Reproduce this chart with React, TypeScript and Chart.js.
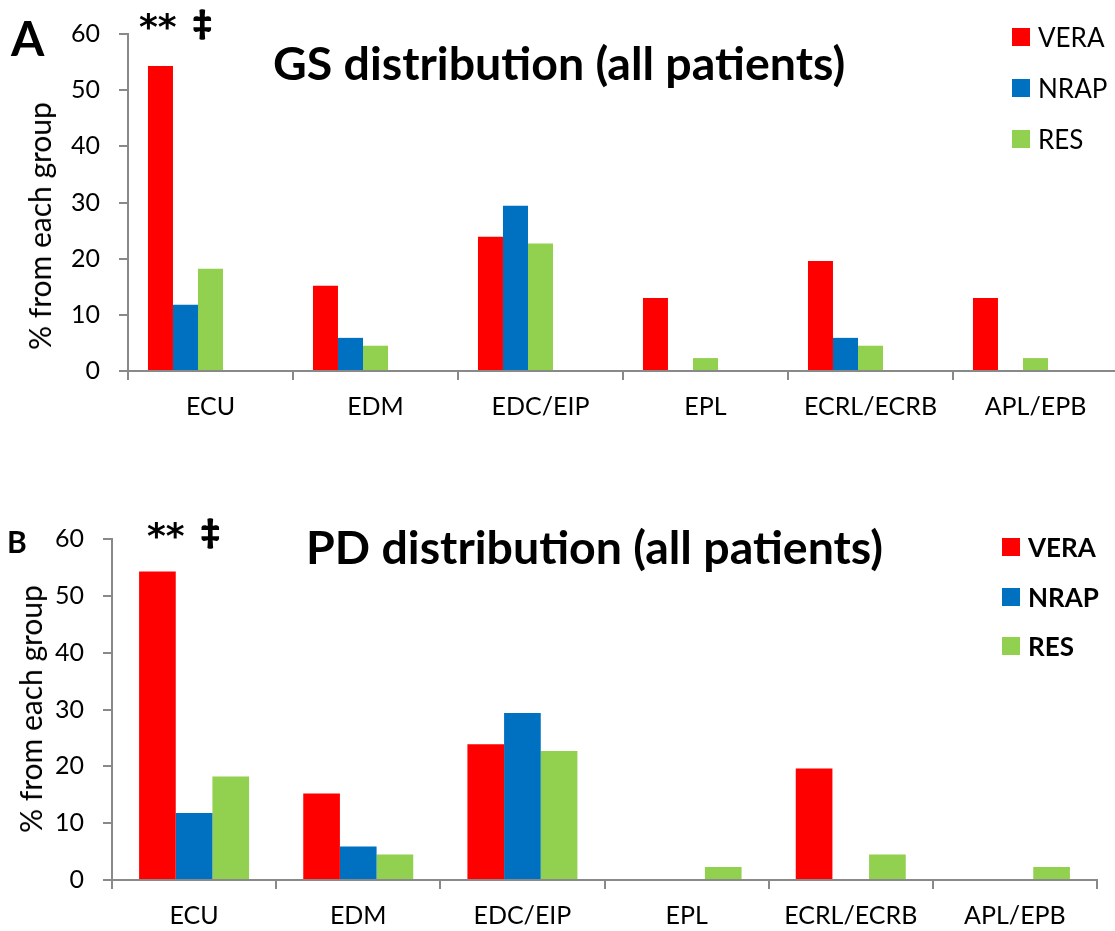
import React, { useEffect, useRef } from "react";
import { Chart, registerables } from "chart.js";

Chart.register(...registerables);

const categories = ["ECU", "EDM", "EDC/EIP", "EPL", "ECRL/ECRB", "APL/EPB"];
const seriesNames = ["VERA", "NRAP", "RES"];
const seriesColors = ["#FF0000", "#0070C0", "#92D050"];

// Panel A: GS distribution (all patients)
const gsVERA = [54.3, 15.2, 23.9, 13.0, 19.6, 13.0];
const gsNRAP = [11.8, 5.9, 29.4, 0, 5.9, 0];
const gsRES = [18.2, 4.5, 22.7, 2.3, 4.5, 2.3];

// Panel B: PD distribution (all patients)
const pdVERA = [54.3, 15.2, 23.9, 0, 19.6, 0];
const pdNRAP = [11.8, 5.9, 29.4, 0, 0, 0];
const pdRES = [18.2, 4.5, 22.7, 2.3, 4.5, 2.3];

const yMin = 0;
const yMax = 60;
const yStep = 10;

const titleA = "GS distribution (all patients)";
const titleB = "PD distribution (all patients)";
const yTitle = "% from each group";
const stars = "**";
const dagger = "‡";

const FONT = "Lato";
const AXIS = "#898989";

function makeOptions(yWidth: number, xHeight: number, padding: any, catPct: number) {
  return {
    responsive: false,
    animation: false as const,
    layout: { padding },
    plugins: { legend: { display: false }, tooltip: { enabled: false }, title: { display: false } },
    datasets: { bar: { categoryPercentage: catPct, barPercentage: 1 } },
    scales: {
      x: {
        type: "category" as const,
        grid: { display: true, drawOnChartArea: false, drawTicks: true, tickLength: 9, color: AXIS, lineWidth: 2, offset: true },
        border: { display: true, color: AXIS, width: 2 },
        ticks: { color: "#000", font: { family: FONT, size: 25 }, padding: 12, maxRotation: 0, autoSkip: false },
        afterFit: (s: any) => { s.height = xHeight; },
      },
      y: {
        min: yMin,
        max: yMax,
        grid: { display: true, drawOnChartArea: false, drawTicks: true, tickLength: 9, color: AXIS, lineWidth: 2 },
        border: { display: true, color: AXIS, width: 2 },
        ticks: { stepSize: yStep, color: "#000", font: { family: FONT, size: 25 }, padding: 19 },
        afterFit: (s: any) => { s.width = yWidth; },
      },
    },
  };
}

function Legend({ top, left, bold, gap }: { top: number; left: number; bold: boolean; gap: number }) {
  return (
    <>
      {seriesNames.map((n, i) => (
        <div key={n} style={{ position: "absolute", left, top: top + i * gap, height: 26, display: "flex", alignItems: "center", fontSize: 26, lineHeight: 1, fontWeight: bold ? 700 : 400, whiteSpace: "nowrap" }}>
          <div style={{ width: 18, height: 18, background: seriesColors[i], marginRight: 8 }} />
          <span>{n}</span>
        </div>
      ))}
    </>
  );
}

export default function App() {
  const topRef = useRef<HTMLCanvasElement>(null);
  const botRef = useRef<HTMLCanvasElement>(null);

  useEffect(() => {
    const top = new Chart(topRef.current!, {
      type: "bar",
      data: {
        labels: categories,
        datasets: [
          { label: seriesNames[0], data: gsVERA, backgroundColor: seriesColors[0], borderWidth: 0 },
          { label: seriesNames[1], data: gsNRAP, backgroundColor: seriesColors[1], borderWidth: 0 },
          { label: seriesNames[2], data: gsRES, backgroundColor: seriesColors[2], borderWidth: 0 },
          { label: "", data: [], backgroundColor: "transparent", borderWidth: 0 },
          { label: "", data: [], backgroundColor: "transparent", borderWidth: 0 },
        ],
      },
      options: makeOptions(128, 69, { top: 31, right: 7, bottom: 0, left: 0 }, 0.758) as any,
    });
    const bot = new Chart(botRef.current!, {
      type: "bar",
      data: {
        labels: categories,
        datasets: [
          { label: seriesNames[0], data: pdVERA, backgroundColor: seriesColors[0], borderWidth: 0 },
          { label: seriesNames[1], data: pdNRAP, backgroundColor: seriesColors[1], borderWidth: 0 },
          { label: seriesNames[2], data: pdRES, backgroundColor: seriesColors[2], borderWidth: 0 },
        ],
      },
      options: makeOptions(112, 51, { top: 99, right: 18, bottom: 0, left: 0 }, 0.67) as any,
    });
    return () => { top.destroy(); bot.destroy(); };
  }, []);

  const abs = (o: any) => ({ position: "absolute" as const, lineHeight: 1, whiteSpace: "nowrap" as const, ...o });
  const starStyle = { fontFamily: "DejaVu Sans", fontSize: 36, fontWeight: 700 };
  const daggerStyle = { fontFamily: FONT, fontSize: 32, fontWeight: 700, WebkitTextStroke: "1.6px #000" };

  return (
    <div style={{ position: "absolute", left: 0, top: 0, width: 1115, height: 931, overflow: "hidden", background: "#fff", fontFamily: FONT, color: "#000" }}>
      <canvas ref={topRef} width={1125} height={440} style={{ position: "absolute", left: 0, top: 0 }} />
      <canvas ref={botRef} width={1115} height={491} style={{ position: "absolute", left: 0, top: 440 }} />

      <div style={abs({ left: 11, top: 14, fontSize: 48, fontWeight: 700 })}>A</div>
      <div style={abs({ left: 7, top: 526, fontSize: 30, fontWeight: 700 })}>B</div>

      <div style={abs({ left: 139, top: 9, ...starStyle })}>{stars}</div>
      <div style={abs({ left: 193, top: 6, ...daggerStyle })}>{dagger}</div>
      <div style={abs({ left: 147, top: 518, ...starStyle })}>{stars}</div>
      <div style={abs({ left: 201, top: 515, ...daggerStyle })}>{dagger}</div>

      <div style={abs({ left: 273, top: 39, fontSize: 46.5, fontWeight: 700 })}>{titleA}</div>
      <div style={abs({ left: 306, top: 523, fontSize: 46.5, fontWeight: 700 })}>{titleB}</div>

      <div style={abs({ left: 39, top: 226, fontSize: 30, transform: "translate(-50%,-50%) rotate(-90deg)" })}>{yTitle}</div>
      <div style={abs({ left: 30, top: 709, fontSize: 30, transform: "translate(-50%,-50%) rotate(-90deg)" })}>{yTitle}</div>

      <Legend top={24} left={1012} bold={false} gap={51} />
      <Legend top={534} left={1002} bold={true} gap={49.5} />
    </div>
  );
}
